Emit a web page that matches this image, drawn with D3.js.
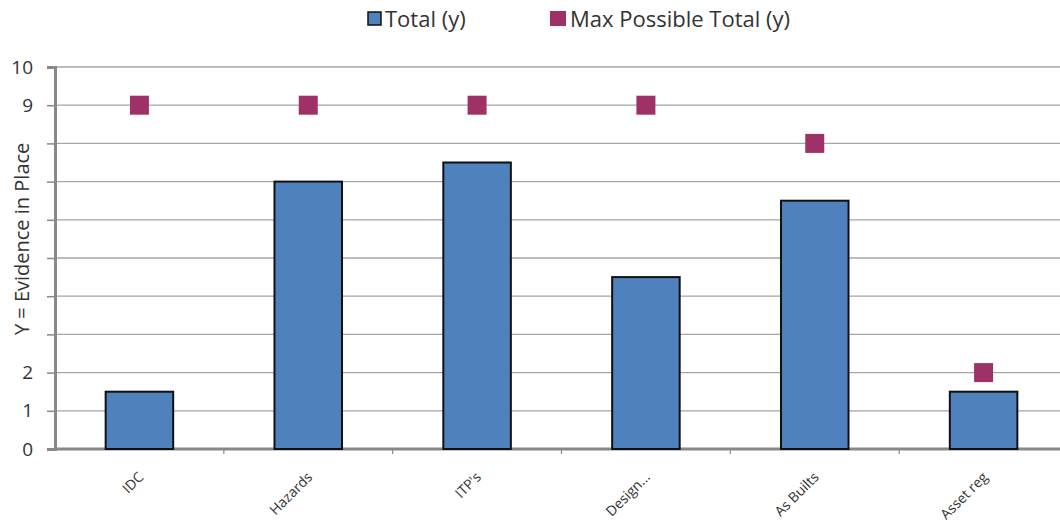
<!DOCTYPE html>
<html><head><meta charset="utf-8">
<script src="https://cdn.jsdelivr.net/npm/d3@7"></script>
<style>body{margin:0;background:#fff;overflow:hidden}</style>
</head><body>
<svg id="c" width="1060" height="531"></svg>
<script>
const categories = ["IDC","Hazards","ITP's","Design...","As Builts","Asset reg"];
const totalValues = [1.5, 7, 7.5, 4.5, 6.5, 1.5];
const maxValues = [9, 9, 9, 9, 8, 2];
const yTicks = [0,1,2,3,4,5,6,7,8,9,10];
const shownTickLabels = [0,1,2,9,10];
const seriesNames = ["Total (y)", "Max Possible Total (y)"];

const svg = d3.select("#c");
const font = "'Open Sans', sans-serif";
const m = {left:55, top:67, bottom:449, right:1068};
const x = d3.scaleBand().domain(categories).range([m.left, m.right]).paddingInner(0.6).paddingOuter(0.3);
const y = d3.scaleLinear().domain([0,10]).range([m.bottom, m.top]);

// gridlines
svg.append("g").selectAll("line").data(yTicks.filter(d=>d>0)).join("line")
  .attr("x1", m.left).attr("x2", 1060).attr("y1", d=>y(d)).attr("y2", d=>y(d))
  .attr("stroke", "#a6a6a6").attr("stroke-width", 1.3);

// y axis
const ya = svg.append("g").attr("transform", `translate(${m.left},0)`)
  .call(d3.axisLeft(y).tickValues(yTicks).tickSize(8).tickPadding(14)
    .tickFormat(d => shownTickLabels.includes(d) ? d : ""));
ya.select(".domain").attr("stroke", "#888").attr("stroke-width", 3);
ya.selectAll(".tick line").attr("stroke", "#888").attr("stroke-width", 1.5);
ya.selectAll("text").attr("font-family", font).attr("font-size", 19).attr("fill", "#333");

// x axis
const xa = svg.append("g").attr("transform", `translate(0,${m.bottom})`);
xa.append("line").attr("x1", m.left).attr("x2", 1060).attr("stroke", "#888").attr("stroke-width", 3);
xa.selectAll("line.t").data(categories.slice(1)).join("line").attr("class","t")
  .attr("x1", d=>x(d)-x.bandwidth()*0.75).attr("x2", d=>x(d)-x.bandwidth()*0.75)
  .attr("y1", 0).attr("y2", 5).attr("stroke", "#888").attr("stroke-width", 1.2);
xa.selectAll("text").data(categories).join("text")
  .attr("transform", d=>`translate(${x(d)+x.bandwidth()/2+5},${29}) rotate(-45)`)
  .attr("text-anchor", "end").attr("font-family", font).attr("font-size", 14).attr("fill", "#333")
  .text(d=>d);

// bars
svg.append("g").selectAll("rect").data(categories).join("rect")
  .attr("x", d=>x(d)).attr("width", x.bandwidth())
  .attr("y", (d,i)=>y(totalValues[i])).attr("height", (d,i)=>y(0)-y(totalValues[i]))
  .attr("fill", "#4f81bd").attr("stroke", "#111").attr("stroke-width", 2);

// max markers
const ms = 19;
svg.append("g").selectAll("rect").data(categories).join("rect")
  .attr("x", d=>x(d)+x.bandwidth()/2-ms/2).attr("y", (d,i)=>y(maxValues[i])-ms/2)
  .attr("width", ms).attr("height", ms).attr("fill", "#9e3266");

// y title
svg.append("text").attr("transform", `translate(29,${(y(8.5)+y(2.5))/2}) rotate(-90)`)
  .attr("text-anchor", "middle").attr("font-family", font).attr("font-size", 20).attr("fill", "#333")
  .text("Y = Evidence in Place");

// legend
const lg = svg.append("g");
lg.append("rect").attr("x", 368).attr("y", 12).attr("width", 13).attr("height", 13)
  .attr("fill", "#4f81bd").attr("stroke", "#111").attr("stroke-width", 1.5);
lg.append("text").attr("x", 385).attr("y", 27).attr("font-family", font).attr("font-size", 22).attr("fill", "#333").text(seriesNames[0]);
lg.append("rect").attr("x", 550).attr("y", 11).attr("width", 16).attr("height", 15).attr("fill", "#9e3266");
lg.append("text").attr("x", 570).attr("y", 27).attr("font-family", font).attr("font-size", 22).attr("fill", "#333").text(seriesNames[1]);
</script>
</body></html>
